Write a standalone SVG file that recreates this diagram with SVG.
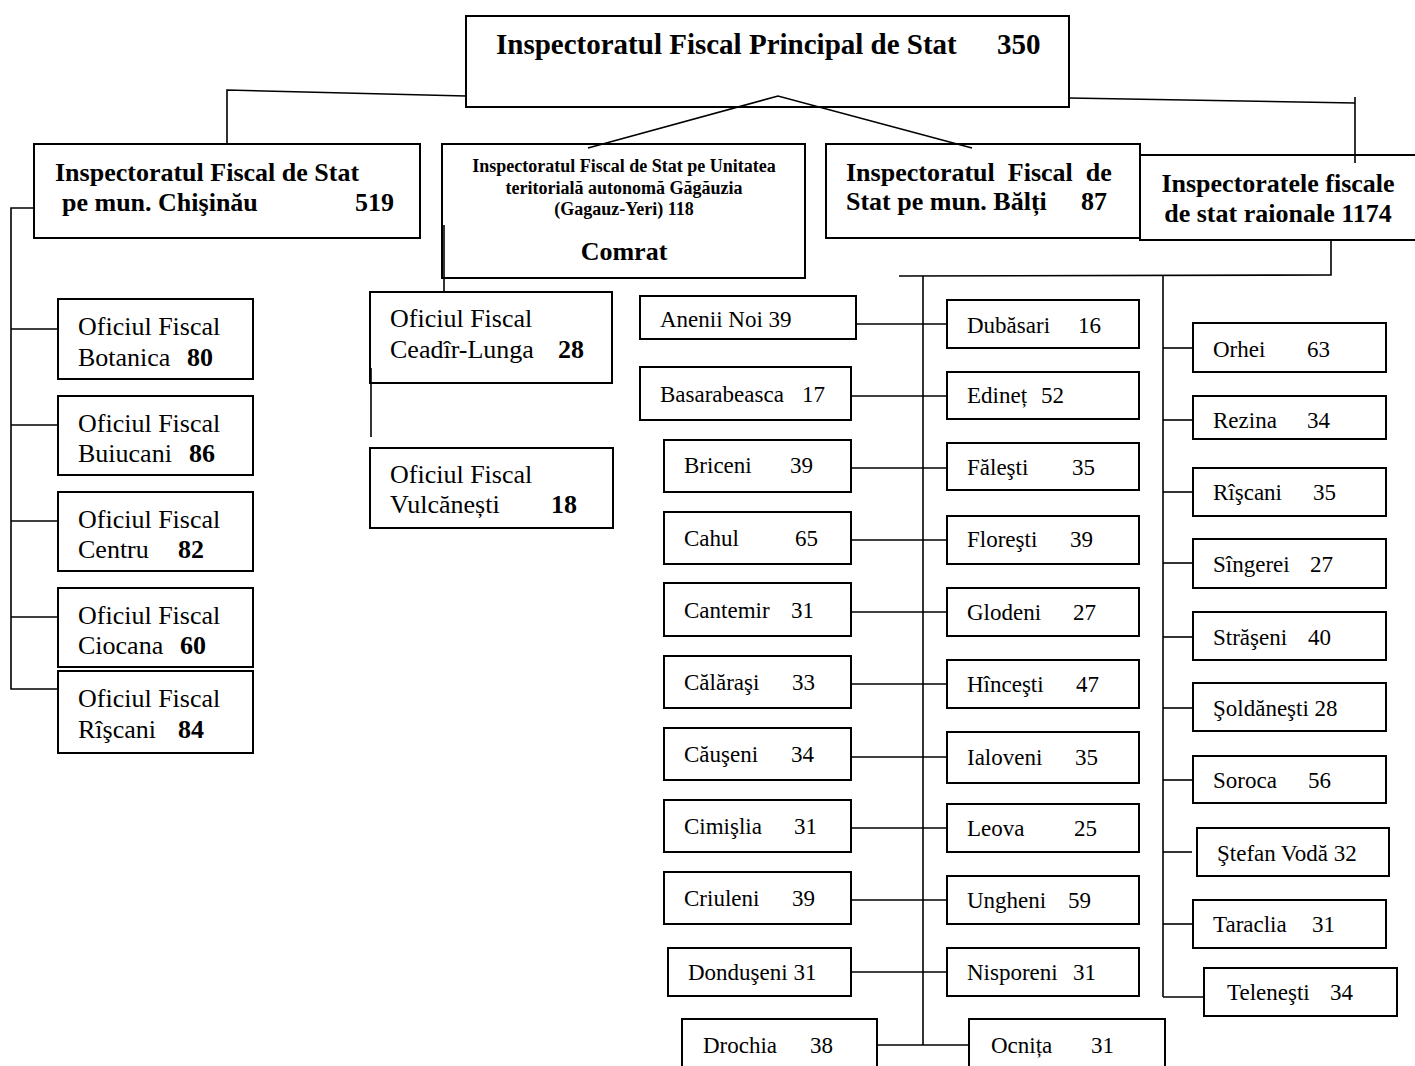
<svg xmlns="http://www.w3.org/2000/svg" width="1415" height="1066" viewBox="0 0 1415 1066">
<style>
rect{fill:#fff;stroke:#000;stroke-width:2}
text{font-family:"Liberation Serif","Times New Roman",serif;fill:#000}
.h{font-weight:bold;font-size:26px}
.t{font-weight:bold;font-size:29px}
.g{font-weight:bold;font-size:18px}
.o{font-size:26px}
.d{font-size:23px}
.b{font-weight:bold}
#connectors line,#connectors polyline{stroke:#000;stroke-width:1.6;fill:none}
</style>
<rect x="0" y="0" width="1415" height="1066" style="fill:#fff;stroke:none"/>
<g id="n-principal"><rect x="466" y="16" width="603" height="91"/>
<text class="t" x="496" y="54">Inspectoratul Fiscal Principal de Stat</text><text class="t" x="997" y="54">350</text></g>
<g id="n-chisinau"><rect x="34" y="144" width="386" height="94"/>
<text class="h" x="55" y="181">Inspectoratul Fiscal de Stat</text>
<text class="h" x="62" y="211">pe mun. Chişinău</text><text class="h" x="355" y="211">519</text></g>
<g id="n-gagauzia"><rect x="442" y="144" width="363" height="134"/>
<text class="g" x="624" y="172" text-anchor="middle">Inspectoratul Fiscal de Stat pe Unitatea</text>
<text class="g" x="624" y="194" text-anchor="middle">teritorială autonomă Găgăuzia</text>
<text class="g" x="624" y="215" text-anchor="middle">(Gagauz-Yeri)  118</text>
<text class="h" x="624" y="260" text-anchor="middle">Comrat</text></g>
<g id="n-balti"><rect x="826" y="144" width="314" height="94"/>
<text class="h" x="846" y="181" xml:space="preserve">Inspectoratul  Fiscal  de</text>
<text class="h" x="846" y="210">Stat pe mun. Bălți</text><text class="h" x="1081" y="210">87</text></g>
<g id="n-raionale"><rect x="1140" y="155" width="290" height="85"/>
<text class="h" x="1278" y="192" text-anchor="middle">Inspectoratele fiscale</text>
<text class="h" x="1278" y="222" text-anchor="middle">de stat raionale 1174</text></g>
<g id="n-botanica"><rect x="58" y="299" width="195" height="80"/>
<text class="o" x="78" y="335">Oficiul Fiscal</text><text class="o" x="78" y="366">Botanica</text><text class="o b" x="187" y="366">80</text></g>
<g id="n-buiucani"><rect x="58" y="396" width="195" height="79"/>
<text class="o" x="78" y="432">Oficiul Fiscal</text><text class="o" x="78" y="462">Buiucani</text><text class="o b" x="189" y="462">86</text></g>
<g id="n-centru"><rect x="58" y="492" width="195" height="79"/>
<text class="o" x="78" y="528">Oficiul Fiscal</text><text class="o" x="78" y="558">Centru</text><text class="o b" x="178" y="558">82</text></g>
<g id="n-ciocana"><rect x="58" y="588" width="195" height="79"/>
<text class="o" x="78" y="624">Oficiul Fiscal</text><text class="o" x="78" y="654">Ciocana</text><text class="o b" x="180" y="654">60</text></g>
<g id="n-riscani-of"><rect x="58" y="671" width="195" height="82"/>
<text class="o" x="78" y="707">Oficiul Fiscal</text><text class="o" x="78" y="738">Rîşcani</text><text class="o b" x="178" y="738">84</text></g>
<g id="n-ceadir"><rect x="370" y="292" width="242" height="91"/>
<text class="o" x="390" y="327">Oficiul Fiscal</text><text class="o" x="390" y="358">Ceadîr-Lunga</text><text class="o b" x="558" y="358">28</text></g>
<g id="n-vulcanesti"><rect x="370" y="448" width="243" height="80"/>
<text class="o" x="390" y="483">Oficiul Fiscal</text><text class="o" x="390" y="513">Vulcănești</text><text class="o b" x="551" y="513">18</text></g>
<g id="n-anenii"><rect x="640" y="296" width="216" height="43"/><text class="d" x="660" y="327">Anenii Noi 39</text></g>
<g id="n-basarabeasca"><rect x="640" y="367" width="211" height="53"/><text class="d" x="660" y="402">Basarabeasca</text><text class="d" x="802" y="402">17</text></g>
<g id="n-briceni"><rect x="664" y="440" width="187" height="52"/><text class="d" x="684" y="473">Briceni</text><text class="d" x="790" y="473">39</text></g>
<g id="n-cahul"><rect x="664" y="512" width="187" height="52"/><text class="d" x="684" y="546">Cahul</text><text class="d" x="795" y="546">65</text></g>
<g id="n-cantemir"><rect x="664" y="583" width="187" height="53"/><text class="d" x="684" y="618">Cantemir</text><text class="d" x="791" y="618">31</text></g>
<g id="n-calarasi"><rect x="664" y="656" width="187" height="52"/><text class="d" x="684" y="690">Călăraşi</text><text class="d" x="792" y="690">33</text></g>
<g id="n-causeni"><rect x="664" y="728" width="187" height="52"/><text class="d" x="684" y="762">Căuşeni</text><text class="d" x="791" y="762">34</text></g>
<g id="n-cimislia"><rect x="664" y="800" width="187" height="52"/><text class="d" x="684" y="834">Cimişlia</text><text class="d" x="794" y="834">31</text></g>
<g id="n-criuleni"><rect x="664" y="872" width="187" height="52"/><text class="d" x="684" y="906">Criuleni</text><text class="d" x="792" y="906">39</text></g>
<g id="n-donduseni"><rect x="668" y="948" width="183" height="48"/><text class="d" x="688" y="980">Donduşeni 31</text></g>
<g id="n-drochia"><rect x="682" y="1019" width="195" height="60"/><text class="d" x="703" y="1053">Drochia</text><text class="d" x="810" y="1053">38</text></g>
<g id="n-dubasari"><rect x="947" y="300" width="192" height="48"/><text class="d" x="967" y="333">Dubăsari</text><text class="d" x="1078" y="333">16</text></g>
<g id="n-edinet"><rect x="947" y="372" width="192" height="47"/><text class="d" x="967" y="403">Edineț</text><text class="d" x="1041" y="403">52</text></g>
<g id="n-falesti"><rect x="947" y="443" width="192" height="47"/><text class="d" x="967" y="475">Făleşti</text><text class="d" x="1072" y="475">35</text></g>
<g id="n-floresti"><rect x="947" y="516" width="192" height="48"/><text class="d" x="967" y="547">Floreşti</text><text class="d" x="1070" y="547">39</text></g>
<g id="n-glodeni"><rect x="947" y="588" width="192" height="48"/><text class="d" x="967" y="620">Glodeni</text><text class="d" x="1073" y="620">27</text></g>
<g id="n-hincesti"><rect x="947" y="660" width="192" height="48"/><text class="d" x="967" y="692">Hînceşti</text><text class="d" x="1076" y="692">47</text></g>
<g id="n-ialoveni"><rect x="947" y="732" width="192" height="51"/><text class="d" x="967" y="765">Ialoveni</text><text class="d" x="1075" y="765">35</text></g>
<g id="n-leova"><rect x="947" y="804" width="192" height="48"/><text class="d" x="967" y="836">Leova</text><text class="d" x="1074" y="836">25</text></g>
<g id="n-ungheni"><rect x="947" y="876" width="192" height="48"/><text class="d" x="967" y="908">Ungheni</text><text class="d" x="1068" y="908">59</text></g>
<g id="n-nisporeni"><rect x="947" y="948" width="192" height="48"/><text class="d" x="967" y="980">Nisporeni</text><text class="d" x="1073" y="980">31</text></g>
<g id="n-ocnita"><rect x="969" y="1019" width="196" height="60"/><text class="d" x="991" y="1053">Ocnița</text><text class="d" x="1091" y="1053">31</text></g>
<g id="n-orhei"><rect x="1193" y="323" width="193" height="49"/><text class="d" x="1213" y="357">Orhei</text><text class="d" x="1307" y="357">63</text></g>
<g id="n-rezina"><rect x="1193" y="396" width="193" height="43"/><text class="d" x="1213" y="428">Rezina</text><text class="d" x="1307" y="428">34</text></g>
<g id="n-riscani"><rect x="1193" y="468" width="193" height="48"/><text class="d" x="1213" y="500">Rîşcani</text><text class="d" x="1313" y="500">35</text></g>
<g id="n-singerei"><rect x="1193" y="539" width="193" height="49"/><text class="d" x="1213" y="572">Sîngerei</text><text class="d" x="1310" y="572">27</text></g>
<g id="n-straseni"><rect x="1193" y="612" width="193" height="48"/><text class="d" x="1213" y="645">Străşeni</text><text class="d" x="1308" y="645">40</text></g>
<g id="n-soldanesti"><rect x="1193" y="683" width="193" height="48"/><text class="d" x="1213" y="716">Şoldăneşti 28</text></g>
<g id="n-soroca"><rect x="1193" y="756" width="193" height="47"/><text class="d" x="1213" y="788">Soroca</text><text class="d" x="1308" y="788">56</text></g>
<g id="n-stefanvoda"><rect x="1197" y="828" width="192" height="48"/><text class="d" x="1217" y="861">Ştefan Vodă 32</text></g>
<g id="n-taraclia"><rect x="1193" y="900" width="193" height="48"/><text class="d" x="1213" y="932">Taraclia</text><text class="d" x="1312" y="932">31</text></g>
<g id="n-telenesti"><rect x="1204" y="968" width="193" height="48"/><text class="d" x="1227" y="1000">Teleneşti</text><text class="d" x="1330" y="1000">34</text></g>
<g id="connectors">
<polyline points="466,96 227,90 227,145"/>
<polyline points="1069,98 1355,103"/>
<line x1="1355" y1="97" x2="1355" y2="163"/>
<polyline points="588,148 778,96 972,148"/>
<polyline points="34,208 11,208 11,689 58,689"/>
<line x1="11" y1="329" x2="58" y2="329"/>
<line x1="11" y1="425" x2="58" y2="425"/>
<line x1="11" y1="521" x2="58" y2="521"/>
<line x1="11" y1="617" x2="58" y2="617"/>
<line x1="444" y1="225" x2="444" y2="292"/>
<line x1="371" y1="368" x2="371" y2="437"/>
<polyline points="1331,240 1331,275 899,276"/>
<line x1="923" y1="276" x2="923" y2="1045"/>
<line x1="1163" y1="275" x2="1163" y2="997"/>
<line x1="856" y1="324" x2="947" y2="324"/>
<line x1="851" y1="396" x2="947" y2="396"/>
<line x1="851" y1="468" x2="947" y2="468"/>
<line x1="851" y1="540" x2="947" y2="540"/>
<line x1="851" y1="612" x2="947" y2="612"/>
<line x1="851" y1="684" x2="947" y2="684"/>
<line x1="851" y1="757" x2="947" y2="757"/>
<line x1="851" y1="828" x2="947" y2="828"/>
<line x1="851" y1="900" x2="947" y2="900"/>
<line x1="851" y1="972" x2="947" y2="972"/>
<line x1="877" y1="1045" x2="969" y2="1045"/>
<line x1="1163" y1="348" x2="1193" y2="348"/>
<line x1="1163" y1="420" x2="1193" y2="420"/>
<line x1="1163" y1="492" x2="1193" y2="492"/>
<line x1="1163" y1="563" x2="1193" y2="563"/>
<line x1="1163" y1="637" x2="1193" y2="637"/>
<line x1="1163" y1="708" x2="1193" y2="708"/>
<line x1="1163" y1="780" x2="1193" y2="780"/>
<line x1="1163" y1="852" x2="1192" y2="852"/>
<line x1="1163" y1="924" x2="1193" y2="924"/>
<line x1="1163" y1="997" x2="1204" y2="997"/>
</g>
</svg>
